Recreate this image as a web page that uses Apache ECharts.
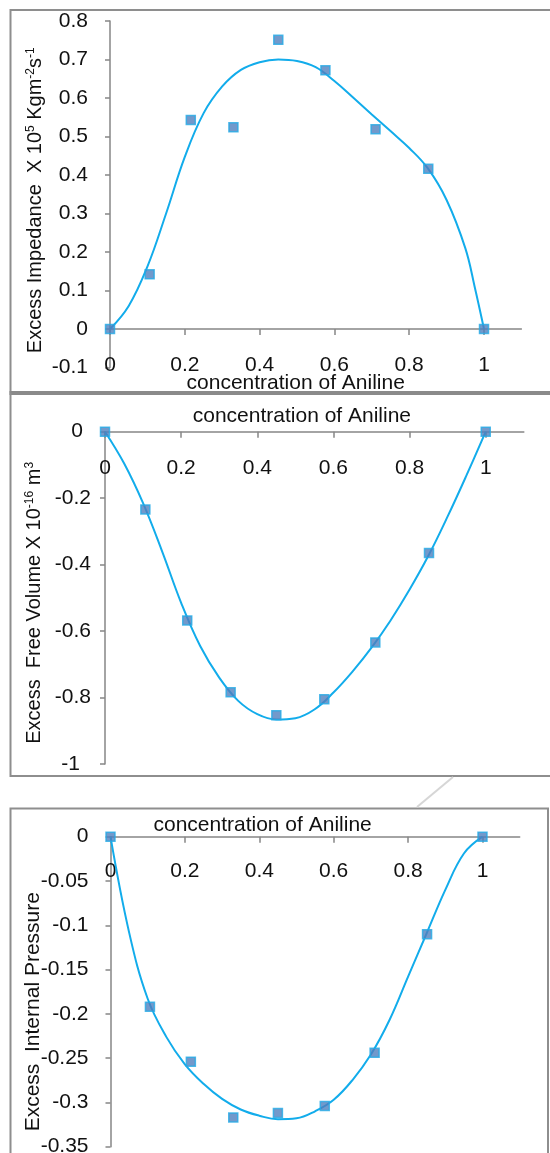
<!DOCTYPE html>
<html>
<head>
<meta charset="utf-8">
<script src="https://cdn.jsdelivr.net/npm/echarts@6/dist/echarts.min.js"></script>
<style>
  html, body { margin: 0; padding: 0; background: #fff; }
  #chart { width: 550px; height: 1153px; }
</style>
</head>
<body>
<div id="chart"></div>
<script>
// ---- measured data (mole fraction of aniline) ----
const xValues = [0, 0.106, 0.216, 0.330, 0.450, 0.576, 0.710, 0.851, 1.0];
const impedance = [0, 0.142, 0.543, 0.524, 0.751, 0.672, 0.519, 0.416, 0];
const freeVolume = [0, -0.234, -0.568, -0.784, -0.853, -0.805, -0.634, -0.365, 0];
const internalPressure = [0, -0.192, -0.254, -0.317, -0.312, -0.304, -0.244, -0.110, 0];

// ---- trend curves ----
const impCurveX = [0, 0.05, 0.1, 0.15, 0.2, 0.25, 0.3, 0.35, 0.4, 0.45, 0.5, 0.55, 0.6, 0.65, 0.7, 0.75, 0.8, 0.85, 0.9, 0.95, 0.975, 1];
const impCurve = [0, 0.06, 0.162, 0.30, 0.447, 0.56, 0.63, 0.673, 0.693, 0.70, 0.696, 0.68, 0.644, 0.601, 0.557, 0.514, 0.470, 0.417, 0.335, 0.21, 0.11, 0];
const curveX = [0, 0.05, 0.1, 0.15, 0.2, 0.25, 0.3, 0.35, 0.4, 0.45, 0.5, 0.55, 0.6, 0.65, 0.7, 0.75, 0.8, 0.85, 0.9, 0.95, 1];
const volCurve = [0, -0.095, -0.215, -0.36, -0.515, -0.645, -0.74, -0.81, -0.85, -0.866, -0.862, -0.836, -0.785, -0.722, -0.65, -0.568, -0.475, -0.372, -0.255, -0.13, 0];
const presCurve = [0, -0.108, -0.183, -0.226, -0.257, -0.279, -0.296, -0.308, -0.315, -0.319, -0.318, -0.310, -0.297, -0.275, -0.246, -0.207, -0.158, -0.109, -0.060, -0.019, 0];

// ---- tick labels ----
const xTicks = [0, 0.2, 0.4, 0.6, 0.8, 1];
const xAxisTitle = 'concentration of Aniline';

const FONT = '"Liberation Sans", Arial, sans-serif';
const AXIS_COLOR = '#868686';
const LINE_COLOR = '#12aceb';
const MARK_FILL = '#4f7fbe';
const MARK_BORDER = '#24aae6';
const TEXT = '#111';

const pair = (xs, ys) => xs.map((x, i) => [x, ys[i]]);

function xAxisDef(gridIndex, opts) {
  return {
    type: 'value', gridIndex, min: 0, max: 1.1, interval: 0.2,
    position: opts.position,
    name: xAxisTitle, nameLocation: 'middle', nameGap: opts.nameGap, nameMoveOverlap: false,
    nameTextStyle: { fontFamily: FONT, fontSize: 21, color: TEXT, padding: [0, opts.padRight, 0, 0] },
    axisLine: { onZero: opts.onZero, lineStyle: { color: AXIS_COLOR, width: 1.5 } },
    axisTick: { show: true, inside: opts.inside, length: 6, customValues: xTicks, lineStyle: { color: AXIS_COLOR, width: 1.5 } },
    axisLabel: { customValues: xTicks, inside: opts.inside, margin: opts.labelMargin, fontFamily: FONT, fontSize: 21, color: TEXT },
    splitLine: { show: false }
  };
}

function richFor(size) {
  return {
    n: { fontFamily: FONT, fontSize: size, color: TEXT, verticalAlign: 'bottom' },
    s: { fontFamily: FONT, fontSize: 12, color: TEXT, verticalAlign: 'top' }
  };
}

function yAxisDef(gridIndex, min, max, interval, name, nameGap, padRight, nameSize, labelExtra) {
  return Object.assign({
    type: 'value', gridIndex, min, max, interval,
    name, nameLocation: 'middle', nameGap, nameMoveOverlap: false,
    nameTextStyle: { fontFamily: FONT, fontSize: nameSize, color: TEXT, padding: [0, padRight, 0, 0], rich: richFor(nameSize) },
    axisLine: { onZero: false, lineStyle: { color: AXIS_COLOR, width: 1.5 } },
    axisTick: { show: true, length: 5, lineStyle: { color: AXIS_COLOR, width: 1.5 } },
    axisLabel: { margin: 22, fontFamily: FONT, fontSize: 21, color: TEXT },
    splitLine: { show: false }
  }, labelExtra || {});
}

const chart = echarts.init(document.getElementById('chart'), null, { renderer: 'canvas' });

const option = {
  backgroundColor: '#fff',
  animation: false,
  grid: [
    { left: 110, top: 21, width: 411.4, height: 346.5, outerBoundsMode: 'none' },
    { left: 105, top: 431.7, width: 418.8, height: 332.3, outerBoundsMode: 'none' },
    { left: 110.5, top: 836.7, width: 409.2, height: 310, outerBoundsMode: 'none' }
  ],
  xAxis: [
    xAxisDef(0, { position: 'bottom', onZero: true, inside: false, nameGap: 5, padRight: 40, labelMargin: -13 }),
    xAxisDef(1, { position: 'top', onZero: false, inside: true, nameGap: 5, padRight: 25, labelMargin: 26 }),
    xAxisDef(2, { position: 'top', onZero: false, inside: true, nameGap: 1, padRight: 105, labelMargin: 24.5 })
  ],
  yAxis: [
    yAxisDef(0, -0.1, 0.8, 0.1,
      '{n|Excess Impedance  X 10}{s|5}{n| Kgm}{s|-2}{n|s}{s|-1}', 65, 12, 20),
    yAxisDef(1, -1, 0, 0.2,
      '{n|Excess  Free Volume X 10}{s|-16}{n| m}{s|3}', 61, 10, 20,
      { axisLabel: { margin: 14, fontFamily: FONT, fontSize: 21, color: TEXT,
          formatter: v => {
            const s = String(Math.round(v * 10) / 10);
            if (s === '0') return '{a|0}';
            if (s === '-1') return '{b|-1}';
            return s;
          },
          rich: {
            a: { fontFamily: FONT, fontSize: 21, color: TEXT, padding: [0, 8, 0, 0] },
            b: { fontFamily: FONT, fontSize: 21, color: TEXT, padding: [0, 11, 0, 0] }
          } } }),
    yAxisDef(2, -0.35, 0, 0.05,
      '{n|Excess  Internal Pressure}', 67, 40, 21)
  ],
  series: [
    { type: 'line', xAxisIndex: 0, yAxisIndex: 0, data: pair(impCurveX, impCurve), smooth: 0.4, showSymbol: false,
      lineStyle: { color: LINE_COLOR, width: 2 }, z: 2 },
    { type: 'scatter', xAxisIndex: 0, yAxisIndex: 0, data: pair(xValues, impedance), symbol: 'rect', symbolSize: 9,
      itemStyle: { color: MARK_FILL, borderColor: MARK_BORDER, borderWidth: 1.5 }, z: 3 },
    { type: 'line', xAxisIndex: 1, yAxisIndex: 1, data: pair(curveX, volCurve), smooth: 0.4, showSymbol: false,
      lineStyle: { color: LINE_COLOR, width: 2 }, z: 2 },
    { type: 'scatter', xAxisIndex: 1, yAxisIndex: 1, data: pair(xValues, freeVolume), symbol: 'rect', symbolSize: 9,
      itemStyle: { color: MARK_FILL, borderColor: MARK_BORDER, borderWidth: 1.5 }, z: 3 },
    { type: 'line', xAxisIndex: 2, yAxisIndex: 2, data: pair(curveX, presCurve), smooth: 0.4, showSymbol: false,
      lineStyle: { color: LINE_COLOR, width: 2 }, z: 2 },
    { type: 'scatter', xAxisIndex: 2, yAxisIndex: 2, data: pair(xValues, internalPressure), symbol: 'rect', symbolSize: 9,
      itemStyle: { color: MARK_FILL, borderColor: MARK_BORDER, borderWidth: 1.5 }, z: 3 }
  ],
  graphic: [
    // panel frames
    { type: 'polyline', silent: true, z: 0, shape: { points: [[560, 10], [10.5, 10], [10.5, 393]] },
      style: { fill: null, stroke: '#8e8e8e', lineWidth: 2 } },
    { type: 'line', silent: true, z: 0, shape: { x1: 9.5, y1: 393, x2: 560, y2: 393 },
      style: { stroke: '#8a8a8a', lineWidth: 4 } },
    { type: 'polyline', silent: true, z: 0, shape: { points: [[10.5, 393], [10.5, 776], [560, 776]] },
      style: { fill: null, stroke: '#8e8e8e', lineWidth: 2 } },
    { type: 'polyline', silent: true, z: 0, shape: { points: [[10.5, 1160], [10.5, 808.5], [548, 808.5], [548, 1160]] },
      style: { fill: null, stroke: '#8e8e8e', lineWidth: 2 } },
    // faint watermark stroke between panels
    { type: 'line', silent: true, z: 0, shape: { x1: 453, y1: 777, x2: 417, y2: 807 },
      style: { stroke: '#d6d6d6', lineWidth: 2 } }
  ]
};

chart.setOption(option);
</script>
</body>
</html>
